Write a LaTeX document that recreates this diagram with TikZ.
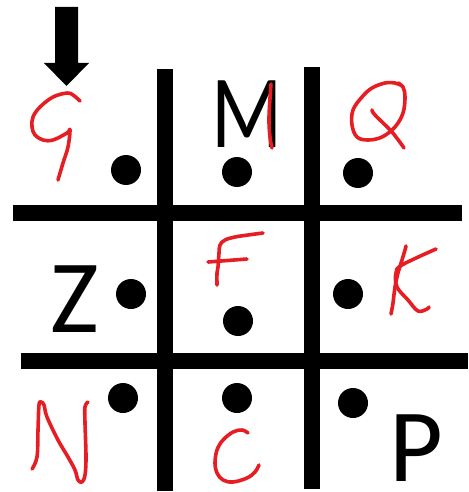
\documentclass[tikz,border=0pt]{standalone}
\usepackage{fontspec}
\setmainfont{Carlito}
\usetikzlibrary{arrows.meta,positioning}
\definecolor{penred}{RGB}{230,30,36}

\begin{document}
\begin{tikzpicture}[x=1pt,y=-1pt,
  bar/.style={line width=16pt},
  spot/.style={fill=black},
  pen/.style={draw=penred, line width=3.6pt, line cap=round, line join=round},
  lbl/.style={inner sep=0pt, font=\fontsize{104}{104}\selectfont}]
\useasboundingbox (0,0) rectangle (468,492);
% grid bars
\draw[bar] (165,69) -- (165,491);
\draw[bar] (312,67) -- (312,489);
\draw[bar] (13,213) -- (462,213);
\draw[bar] (21,361) -- (468,361);
% pointer arrow
\fill (55,7) -- (78,7) -- (78,63) -- (89,63) -- (66.5,86) -- (44,63) -- (55,63) -- cycle;
% dots
\foreach \px/\py in {126/170, 237/172, 358/173, 131/294, 238/321, 348/294, 123/398, 237/398, 353/403}
  \fill[spot] (\px,\py) circle[radius=15pt];
% typed letters
\node[lbl, xscale=0.8, transform shape] (lblM) at (247,114.5) {M};
\node[lbl] (lblZ) at (75,299.5) {Z};
\node[lbl] (lblP) at (416,448) {P};
% handwritten marks
\draw[pen] plot[smooth, tension=0.6] coordinates {(80,101) (73,95) (67,93) (53,97) (40,107) (33,117) (32,127) (35,135) (43,140) (53,140) (67,133) (70,130) (68,147) (63,163) (58,180)};
\draw[pen] plot[smooth, tension=0.6] coordinates {(271,84) (269,117) (270,137) (272,148)};
\draw[pen] plot[smooth, tension=0.6] coordinates {(400,85) (395,83) (385,83) (372,88) (362,97) (353,110) (352,125) (357,137) (368,140) (382,137) (395,127) (403,113) (405,97) (403,87) (398,83)};
\draw[pen] plot[smooth, tension=0.6] coordinates {(372,110) (375,115) (392,132) (404,148)};
\draw[pen] plot[smooth, tension=0.6] coordinates {(263,233) (248,235) (235,237) (225,240) (220,245) (219,253) (218,267) (217,273) (217,285)};
\draw[pen] (208,262) -- (247,259);
\draw[pen] plot[smooth, tension=0.6] coordinates {(406,246) (405,250) (402,260) (398,273) (395,287) (393,303) (391,314)};
\draw[pen] plot[smooth, tension=0.6] coordinates {(436,249) (402,265) (396,273) (397,287) (408,300) (418,311) (427,309) (429,307)};
\draw[pen] plot[smooth, tension=0.6] coordinates {(32,469) (37,457) (38,430) (39,405) (41,402) (44,405) (47,417) (58,440) (68,457) (75,470) (78,480) (82,482) (85,475) (86,457) (85,423) (85,407) (88,402)};
\draw[pen] plot[smooth, tension=0.6] coordinates {(248,433) (242,430) (233,432) (223,440) (217,450) (215,463) (217,473) (223,480) (233,482) (247,478) (255,472) (259,465)};
\end{tikzpicture}
\end{document}
